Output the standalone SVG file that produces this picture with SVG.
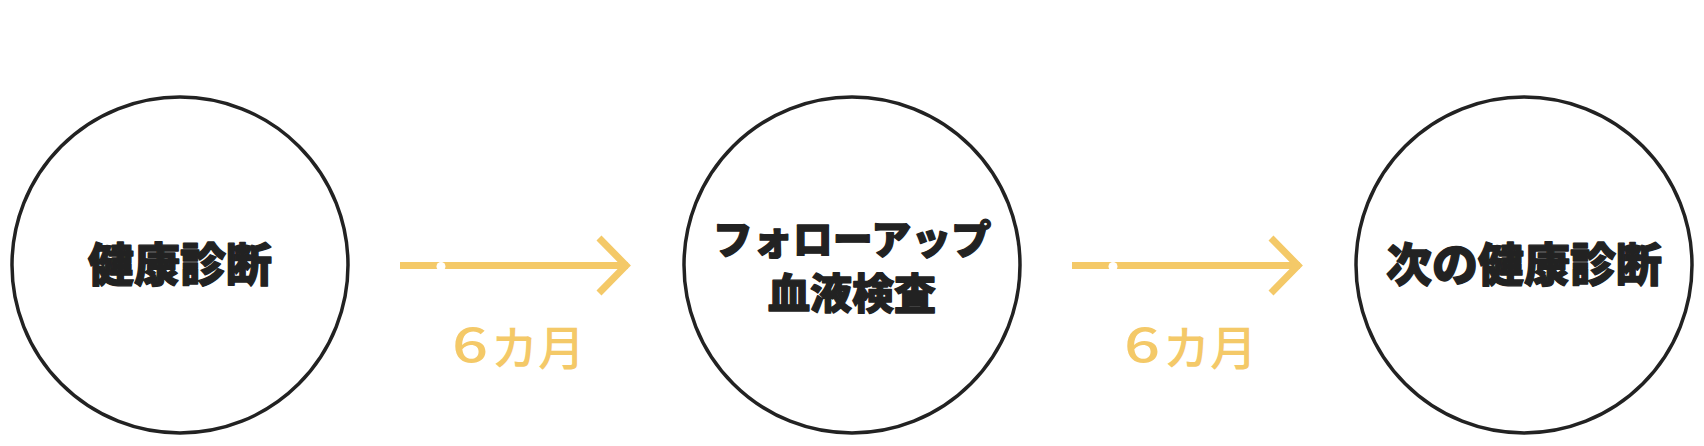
<svg xmlns="http://www.w3.org/2000/svg" width="1704" height="446" viewBox="0 0 1704 446">
<style>
.node{fill:#fff;stroke:#222;stroke-width:3.5}
.lbl{font-family:"Noto Sans CJK JP","Noto Sans CJK SC",sans-serif;font-weight:900;fill:#222;stroke:#222;stroke-width:1.3;stroke-linejoin:round;text-anchor:middle}
.line{stroke:#f4c968;stroke-width:7;fill:none}
.dur{font-family:"Noto Sans CJK JP","Noto Sans CJK SC",sans-serif;font-weight:500;fill:#f4c968;font-size:47px}
</style>
<rect width="1704" height="446" fill="#fff"/>
<g id="node1">
<circle class="node" cx="180" cy="265" r="168"/>
<text class="lbl" x="180" y="281" font-size="46">健康診断</text>
</g>
<g id="node2">
<circle class="node" cx="852" cy="265" r="168"/>
<text class="lbl" x="852" y="254" font-size="40">フォローアップ</text>
<text class="lbl" x="852" y="309" font-size="42">血液検査</text>
</g>
<g id="node3">
<circle class="node" cx="1524" cy="265" r="168"/>
<text class="lbl" x="1524" y="281" font-size="46">次の健康診断</text>
</g>
<g id="connectors">
<g>
<line class="line" x1="400" y1="265.5" x2="628" y2="265.5"/>
<polyline class="line" points="599,238 626,265.5 599,293"/>
<circle cx="441" cy="266.5" r="4.5" fill="#fff"/>
<text class="dur" text-anchor="middle" transform="translate(470,362) scale(1.35,1)">6</text>
<text class="dur" x="491" y="365">カ月</text>
</g>
<g>
<line class="line" x1="1072" y1="265.5" x2="1300" y2="265.5"/>
<polyline class="line" points="1271,238 1298,265.5 1271,293"/>
<circle cx="1113" cy="266.5" r="4.5" fill="#fff"/>
<text class="dur" text-anchor="middle" transform="translate(1142,362) scale(1.35,1)">6</text>
<text class="dur" x="1163" y="365">カ月</text>
</g>
</g>
</svg>
